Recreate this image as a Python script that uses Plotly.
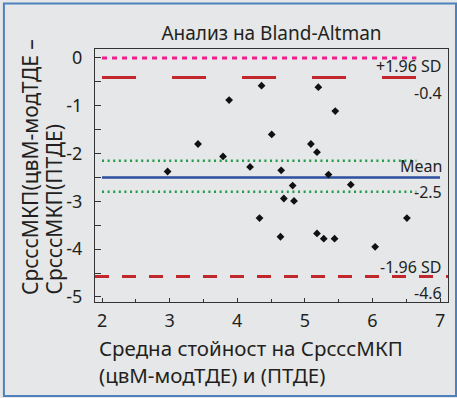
import plotly.graph_objects as go

# ---- data ----
mean_x = [4.36, 5.20, 3.88, 5.45, 4.51, 3.42, 5.09, 5.18, 3.79, 2.97, 4.19, 4.65,
          5.35, 4.82, 5.68, 4.69, 4.84, 4.33, 6.51, 4.64, 5.18, 5.28, 5.44, 6.04]
diff_y = [-0.58, -0.61, -0.88, -1.11, -1.60, -1.80, -1.80, -1.97, -2.06, -2.375, -2.28, -2.35,
          -2.44, -2.67, -2.65, -2.94, -2.99, -3.35, -3.35, -3.74, -3.67, -3.78, -3.78, -3.95]

zero_line = 0.0
upper_loa = -0.41
mean_diff = -2.5
ci_mean_hi = -2.15
ci_mean_lo = -2.80
lower_loa = -4.57

y_tick_vals = [0, -1, -2, -3, -4, -5]
y_tick_text = ["0", "-1", "-2", "-3", "-4", "-5"]
x_tick_vals = [2, 3, 4, 5, 6, 7]

line_start = 2
line_end = 6.65
x_min, x_max = 1.896, 7.118
y_min, y_max = -5.105, 0.188

title = "Анализ на Bland-Altman"
y_title_lines = ["СрсссМКП(цвМ-модТДЕ –", "СрсссМКП(ПТДЕ)"]
x_title_lines = ["Средна стойност на СрсссМКП", "(цвМ-модТДЕ) и (ПТДЕ)"]

FONT = "Noto Sans"
TXT = "#231f20"
BG = "#e6e7e8"

fig = go.Figure()

def hline(x0, x1, y, color, width, dash):
    fig.add_trace(go.Scatter(x=[x0, x1], y=[y, y], mode="lines",
                             line=dict(color=color, width=width, dash=dash),
                             hoverinfo="skip", showlegend=False))

hline(line_start, line_end, zero_line, "#ee1c8c", 3, "5px,5px")
hline(line_start, line_end, upper_loa, "#c1272d", 3, "34px,36px")
hline(line_start, line_end, ci_mean_hi, "#1f9a48", 2.5, "2px,3.6px")
hline(line_start, line_end, ci_mean_lo, "#1f9a48", 2.5, "2px,3.6px")
hline(line_start, 7, mean_diff, "#2d4ea0", 2.5, "solid")
hline(x_min, x_max, lower_loa, "#c1272d", 3, "14px,13px")

fig.add_trace(go.Scatter(x=mean_x, y=diff_y, mode="markers",
                         marker=dict(symbol="diamond", size=6, color="#111111"),
                         showlegend=False))

def label(text, y, shift):
    fig.add_annotation(text=text, xref="paper", x=0.99, xanchor="right",
                       y=y, yref="y", yanchor="middle", yshift=shift,
                       showarrow=False, font=dict(family=FONT, size=16, color=TXT))

label("+1.96 SD", upper_loa, 12)
label(f"{upper_loa:.1f}", upper_loa, -15)
label("Mean", mean_diff, 11)
label(f"{mean_diff:.1f}", mean_diff, -15)
label("-1.96 SD", lower_loa, 9)
label(f"{lower_loa:.1f}", lower_loa, -17)

# axis titles (one annotation per line to control the line spacing)
for xpos, line in zip([-0.184, -0.116], y_title_lines):
    fig.add_annotation(text=line, textangle=-90,
                       xref="paper", x=xpos, xanchor="center",
                       yref="paper", y=0.02, yanchor="bottom",
                       showarrow=False, font=dict(family=FONT, size=21, color=TXT))
for ypos, line in zip([-0.180, -0.289], x_title_lines):
    fig.add_annotation(text=line,
                       xref="paper", x=0.006, xanchor="left",
                       yref="paper", y=ypos, yanchor="middle",
                       showarrow=False, font=dict(family=FONT, size=20.5, color=TXT))

# outer frame
fig.add_shape(type="rect", xref="paper", yref="paper",
              x0=-0.258, x1=1.0227, y0=-0.372, y1=1.180,
              line=dict(color="#4f81bd", width=2), fillcolor="rgba(0,0,0,0)", layer="below")

fig.update_layout(
    width=457, height=398,
    margin=dict(l=95, r=9, t=49, b=96),
    paper_bgcolor=BG, plot_bgcolor=BG,
    font=dict(family=FONT, color=TXT),
    title=dict(text=title, x=0.5, xref="paper", y=1 - 33 / 398, yanchor="middle",
               font=dict(family=FONT, size=19, color=TXT)),
    showlegend=False,
)
fig.update_xaxes(range=[x_min, x_max], tickvals=x_tick_vals, showgrid=False, zeroline=False,
                 showline=True, linecolor="#333333", linewidth=1, mirror=True,
                 ticks="inside", ticklen=4, tickcolor="#333333",
                 minor=dict(dtick=0.5, tick0=2, ticks="inside", ticklen=3, tickcolor="#333333"),
                 tickfont=dict(family=FONT, size=18, color=TXT), ticklabelstandoff=2)
fig.update_yaxes(range=[y_min, y_max], tickvals=y_tick_vals, ticktext=y_tick_text,
                 showgrid=False, zeroline=False,
                 showline=True, linecolor="#333333", linewidth=1, mirror=True,
                 ticks="inside", ticklen=6, tickcolor="#333333",
                 minor=dict(dtick=0.5, tick0=0, ticks="inside", ticklen=6, tickcolor="#333333"),
                 tickfont=dict(family=FONT, size=18, color=TXT), ticklabelstandoff=8)

fig.write_html("out.html", config={"displayModeBar": False},
               post_script="document.body.style.margin='0';")
